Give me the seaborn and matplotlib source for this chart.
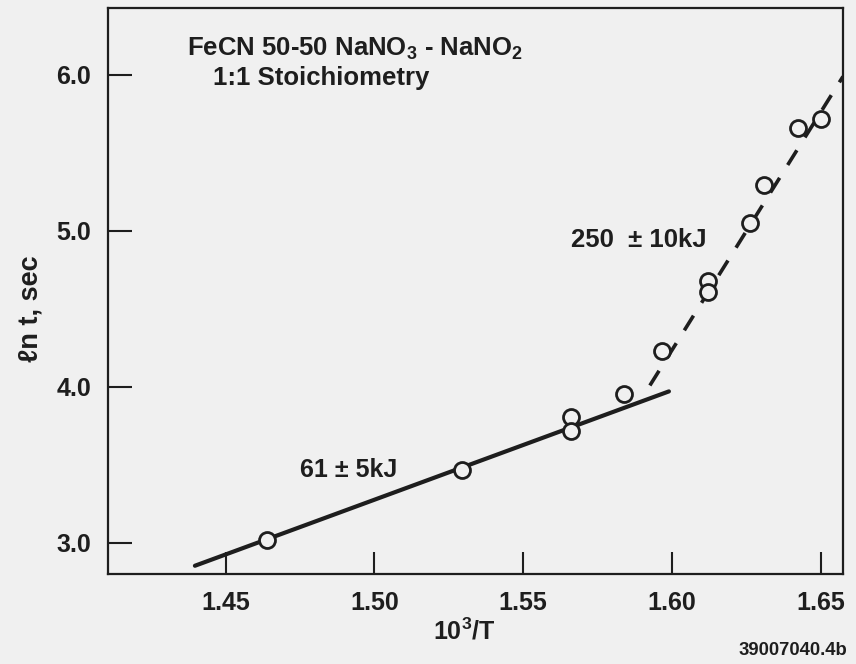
import matplotlib
matplotlib.use("Agg")
import matplotlib.pyplot as plt
import seaborn as sns
import pandas as pd

# ---- data ----
inv_T = [1.4638, 1.5293, 1.5661, 1.5661, 1.5840, 1.5968, 1.6120, 1.6120, 1.6261, 1.6311, 1.6425, 1.6500]
ln_t = [3.016, 3.470, 3.810, 3.715, 3.955, 4.227, 4.680, 4.610, 5.048, 5.293, 5.660, 5.720]

low_fit_x = [1.4397, 1.5990]
low_fit_y = [2.853, 3.971]
high_fit_x = [1.5926, 1.6575]
high_fit_y = [4.009, 5.990]

x_ticks = [1.45, 1.50, 1.55, 1.60, 1.65]
x_tick_labels = ["1.45", "1.50", "1.55", "1.60", "1.65"]
y_ticks = [3.0, 4.0, 5.0, 6.0]
y_tick_labels = ["3.0", "4.0", "5.0", "6.0"]

title_line1 = "FeCN 50-50 NaNO$_3$ - NaNO$_2$"
title_line2 = "1:1 Stoichiometry"
label_low = "61 ± 5kJ"
label_high = "250  ± 10kJ"
x_label = "10$^3$/T"
y_label = "ℓn t, sec"
fig_id = "39007040.4b"

# ---- drawing ----
sns.set_theme(style="white")
plt.rcParams["font.family"] = ["Liberation Sans", "DejaVu Sans"]
plt.rcParams["mathtext.fontset"] = "custom"
plt.rcParams["mathtext.rm"] = "Liberation Sans:bold"
plt.rcParams["mathtext.it"] = "Liberation Sans:bold"
plt.rcParams["mathtext.bf"] = "Liberation Sans:bold"

ink = "#1e1e1e"
bg = "#f0f0f0"

fig = plt.figure(figsize=(8.56, 6.64), dpi=100, facecolor=bg)
ax = fig.add_axes([0.1262, 0.1355, 0.8586, 0.8517])
ax.set_facecolor(bg)

low_df = pd.DataFrame({"x": low_fit_x, "y": low_fit_y})
high_df = pd.DataFrame({"x": high_fit_x, "y": high_fit_y})
pts_df = pd.DataFrame({"x": inv_T, "y": ln_t})

sns.lineplot(data=low_df, x="x", y="y", ax=ax, color=ink, lw=3.0, sort=False)
sns.lineplot(data=high_df, x="x", y="y", ax=ax, color=ink, lw=2.6, sort=False,
             dashes=False, linestyle=(0, (4.8, 4.2)))
ax.plot(pts_df["x"], pts_df["y"], linestyle="none", marker="o", markersize=11.5,
        markerfacecolor=bg, markeredgecolor=ink, markeredgewidth=2.0, zorder=5)

ax.set_xlim(1.4105, 1.6575)
ax.set_ylim(2.80, 6.426)

ax.set_xticks(x_ticks)
ax.set_xticklabels(x_tick_labels, fontsize=18, fontweight="bold", color=ink)
ax.set_yticks(y_ticks)
ax.set_yticklabels(y_tick_labels, fontsize=18, fontweight="bold", color=ink)
ax.tick_params(axis="x", which="major", bottom=True, top=False, direction="in",
               length=16, width=1.5, color=ink, pad=12)
ax.tick_params(axis="y", which="major", left=True, right=False, direction="in",
               length=17, width=1.5, color=ink, pad=12)
for s in ax.spines.values():
    s.set_visible(True)
    s.set_color(ink)
    s.set_linewidth(1.6)

ax.set_xlabel(x_label, fontsize=18, fontweight="bold", color=ink)
ax.xaxis.set_label_coords(0.484, -0.101)
ax.set_ylabel(y_label, fontsize=19.5, fontweight="bold", color=ink)
ax.yaxis.set_label_coords(-0.106, 0.47)
ax.yaxis.label.set_verticalalignment("center")
ax.xaxis.label.set_verticalalignment("center")

ax.text(0.336, 0.928, title_line1, transform=ax.transAxes, fontsize=18.5,
        fontweight="bold", color=ink, ha="center", va="center")
ax.text(0.29, 0.877, title_line2, transform=ax.transAxes, fontsize=18.5,
        fontweight="bold", color=ink, ha="center", va="center")
ax.text(1.5888, 4.942, label_high, fontsize=18.5, fontweight="bold", color=ink,
        ha="center", va="center")
ax.text(1.4913, 3.468, label_low, fontsize=18, fontweight="bold", color=ink,
        ha="center", va="center")

fig.text(0.99, 0.021, fig_id, fontsize=13.3, fontweight="bold", color=ink,
         ha="right", va="center")

fig.savefig("out.png", dpi=100, facecolor=bg)
